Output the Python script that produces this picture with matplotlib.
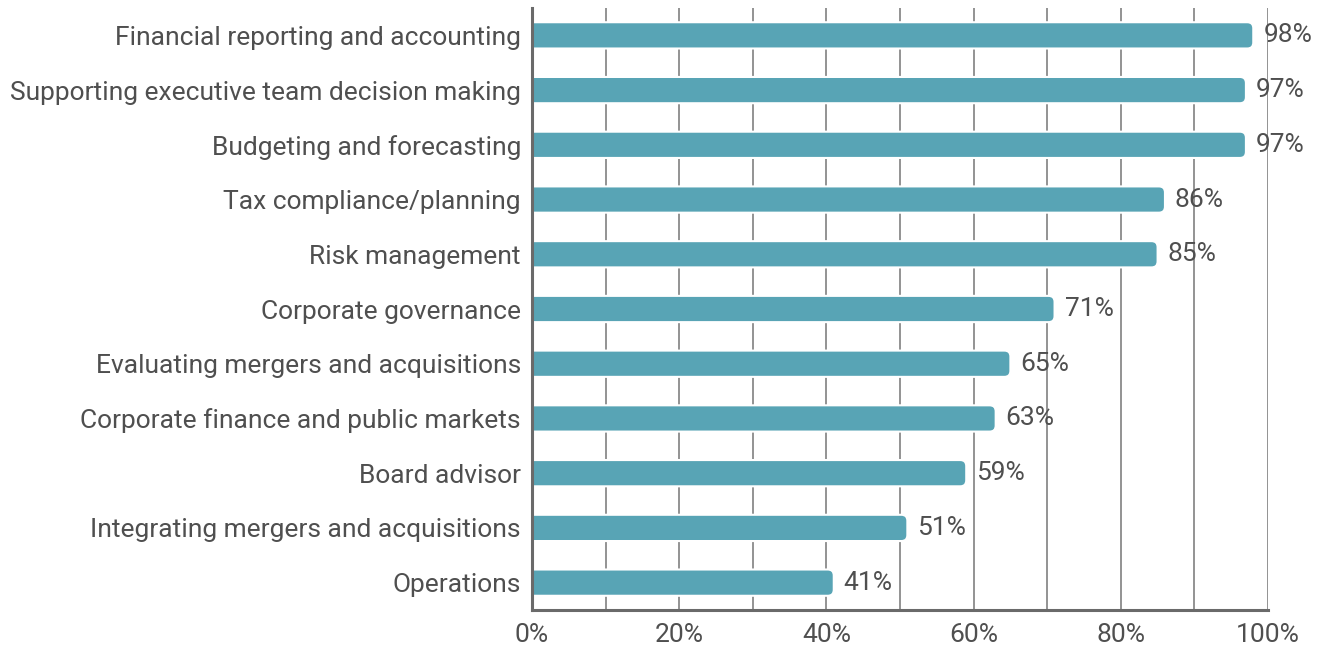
import matplotlib

matplotlib.use("Agg")
import matplotlib.pyplot as plt  # noqa: E402
from matplotlib.patches import FancyBboxPatch  # noqa: E402
from matplotlib.ticker import MultipleLocator, FuncFormatter  # noqa: E402

categories = [
    "Financial reporting and accounting",
    "Supporting executive team decision making",
    "Budgeting and forecasting",
    "Tax compliance/planning",
    "Risk management",
    "Corporate governance",
    "Evaluating mergers and acquisitions",
    "Corporate finance and public markets",
    "Board advisor",
    "Integrating mergers and acquisitions",
    "Operations",
]
values = [98, 97, 97, 86, 85, 71, 65, 63, 59, 51, 41]

BAR_COLOR = "#58a4b5"
TEXT_COLOR = "#4f4f4f"
GRID_COLOR = "#8a8a8a"
SPINE_COLOR = "#6a6a6a"
FONT = ["Roboto", "DejaVu Sans"]
FS = 19

W, H, DPI = 1327, 649, 100
fig = plt.figure(figsize=(W / DPI, H / DPI), dpi=DPI)
ax = fig.add_axes([532 / W, 39 / H, 736 / W, 602 / H])

ys = list(range(len(categories)))
bars = ax.barh(ys, values, height=0.48, color=BAR_COLOR)

# rounded right end; the left end runs past x=0 and gets clipped square
px_x = 100 / 736  # data units per pixel, x
px_y = 11 / 602   # data units per pixel, y
radius = 6 * px_x
for b in bars:
    x0, y0 = b.get_x(), b.get_y()
    w, h = b.get_width(), b.get_height()
    b.set_visible(False)
    rb = FancyBboxPatch((x0 - 4 * radius, y0), w + 4 * radius, h,
                        boxstyle=f"round,pad=0,rounding_size={radius}",
                        mutation_aspect=px_y / px_x,
                        facecolor=BAR_COLOR, edgecolor="white", linewidth=1.5,
                        zorder=3)
    ax.add_patch(rb)
    ax.text(x0 + w + 10 * px_x, y0 + h / 2, f"{int(w)}%", va="center",
            ha="left", fontsize=FS, color=TEXT_COLOR, family=FONT)

ax.set_xlim(0, 100)
ax.set_ylim(len(categories) - 0.5, -0.5)
ax.set_yticks(ys)
ax.set_yticklabels(categories, fontsize=FS, color=TEXT_COLOR, family=FONT)
ax.xaxis.set_major_locator(MultipleLocator(20))
ax.xaxis.set_minor_locator(MultipleLocator(10))
ax.xaxis.set_major_formatter(FuncFormatter(lambda v, _: f"{int(v)}%"))
for lbl in ax.get_xticklabels():
    lbl.set_fontsize(FS)
    lbl.set_color(TEXT_COLOR)
    lbl.set_family(FONT)
ax.tick_params(axis="both", which="both", length=0)
ax.tick_params(axis="x", pad=9)
ax.tick_params(axis="y", pad=8)
ax.grid(axis="x", which="both", color=GRID_COLOR, linewidth=1.3, zorder=0)
ax.set_axisbelow(True)

for side in ("top", "right"):
    ax.spines[side].set_visible(False)
for side in ("left", "bottom"):
    ax.spines[side].set_color(SPINE_COLOR)
    ax.spines[side].set_linewidth(2.2)
    ax.spines[side].set_zorder(4)

fig.savefig("out.png", dpi=DPI)
